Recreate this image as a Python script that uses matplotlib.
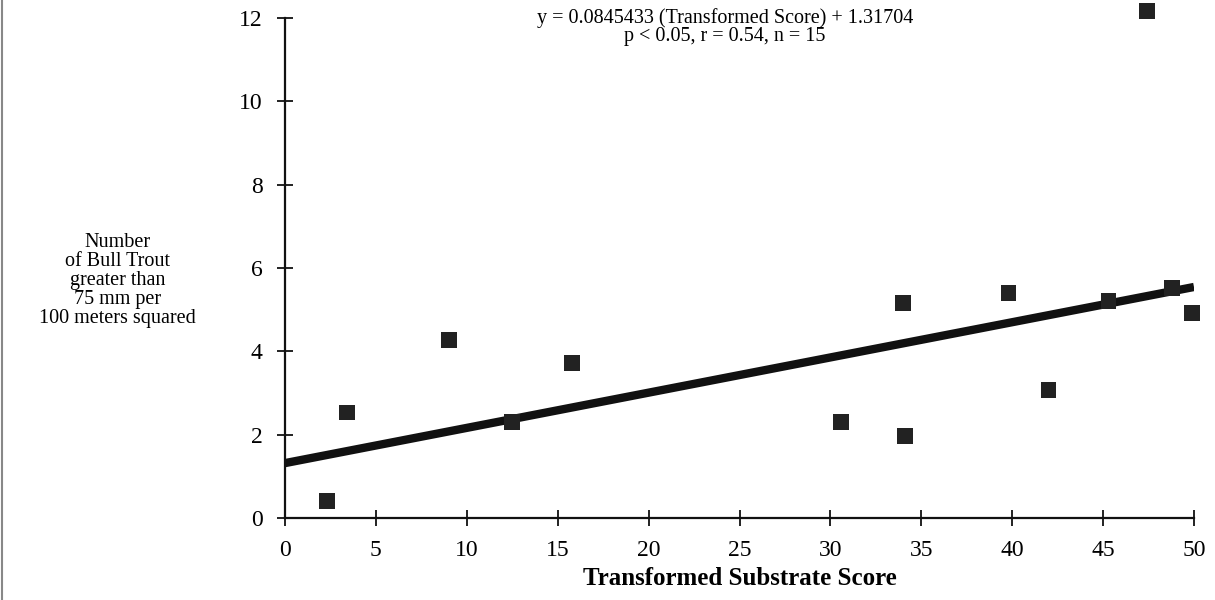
import matplotlib
matplotlib.use("Agg")
import matplotlib.pyplot as plt
from matplotlib.lines import Line2D
import numpy as np

# substrate score vs. bull trout density (fish > 75 mm per 100 m^2)
substrate_score = [2.3, 3.4, 9.0, 12.5, 15.8, 30.6, 34.0, 34.1, 39.8, 42.0, 45.3, 47.4, 48.8, 49.9]
trout_density = [0.41, 2.53, 4.27, 2.31, 3.72, 2.31, 5.15, 1.97, 5.39, 3.07, 5.21, 12.16, 5.51, 4.91]

# regression reported for the fit
slope = 0.0845433
intercept = 1.31704
fit_range = [0, 50]

x_ticks = list(range(0, 51, 5))
y_ticks = list(range(0, 13, 2))

plt.rcParams["font.family"] = ["Liberation Serif", "DejaVu Serif"]

fig = plt.figure(figsize=(12.15, 6.0), dpi=100)
ax = fig.add_axes([0.2346, 0.1367, 0.7481, 0.8333])

ax.scatter(substrate_score, trout_density, marker="s", s=130, color="#222222",
           edgecolors="none", zorder=3, clip_on=False)

xf = np.array(fit_range, dtype=float)
ax.plot(xf, slope * xf + intercept, color="#111111", lw=6, solid_capstyle="butt", zorder=2)

ax.set_xlim(0, 50)
ax.set_ylim(0, 12)
ax.set_xticks(x_ticks)
ax.set_yticks(y_ticks)
for side in ("top", "right"):
    ax.spines[side].set_visible(False)
for side in ("left", "bottom"):
    ax.spines[side].set_linewidth(1.6)
    ax.spines[side].set_color("#111111")
ax.tick_params(direction="inout", length=12, width=1.3, color="#111111",
               labelsize=17, pad=10)

ax.set_xlabel("Transformed Substrate Score", fontsize=18, fontweight="bold", labelpad=4)

fig.text(0.097, 0.532,
         "Number\nof Bull Trout\ngreater than\n75 mm per\n100 meters squared",
         ha="center", va="center", fontsize=14.5, linespacing=1.0)

ax.text(0.484, 0.982,
        "y = 0.0845433 (Transformed Score) + 1.31704\np < 0.05, r = 0.54, n = 15",
        transform=ax.transAxes, ha="center", va="center", fontsize=14.5,
        linespacing=0.95, multialignment="center")

# thin border along the left edge of the page
fig.add_artist(Line2D([0.002, 0.002], [0, 1], color="#888888", lw=1.5))

fig.savefig("out.png", dpi=100)
